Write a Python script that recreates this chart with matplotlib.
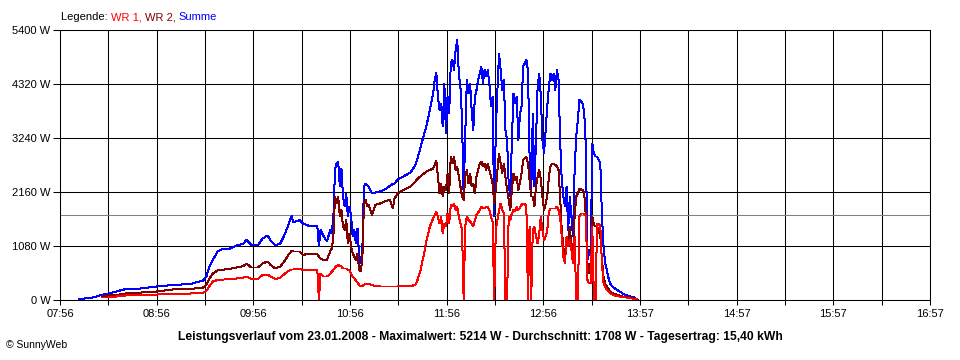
import numpy as np
import matplotlib.pyplot as plt

plt.rcParams["font.family"] = ["Liberation Sans", "DejaVu Sans"]

# Leistungsverlauf 23.01.2008, values in W
times = ["08:08", "08:15", "08:22", "08:26", "08:31", "08:37", "08:46", "08:56", "09:06", "09:17",
         "09:25", "09:27", "09:29", "09:31", "09:34", "09:38", "09:41", "09:46", "09:50", "09:52",
         "09:55", "09:59", "10:02", "10:05", "10:07", "10:10", "10:13", "10:16", "10:18", "10:20",
         "10:21", "10:25", "10:27", "10:31", "10:36", "10:37", "10:38", "10:40", "10:42", "10:44",
         "10:45", "10:46", "10:47", "10:48", "10:49", "10:50", "10:51", "10:52", "10:53", "10:54",
         "10:55", "10:56", "10:57", "10:58", "10:59", "11:00", "11:01", "11:02", "11:03", "11:04",
         "11:05", "11:06", "11:07", "11:08", "11:10", "11:12", "11:15", "11:18", "11:21", "11:23",
         "11:24", "11:26", "11:30", "11:34", "11:37", "11:38", "11:40", "11:42", "11:44", "11:46",
         "11:48", "11:49", "11:50", "11:51", "11:52", "11:53", "11:54", "11:55", "11:56", "11:57",
         "11:58", "11:59", "12:00", "12:01", "12:02", "12:03", "12:04", "12:05", "12:06", "12:07",
         "12:08", "12:09", "12:10", "12:11", "12:12", "12:13", "12:14", "12:15", "12:16", "12:17",
         "12:18", "12:19", "12:20", "12:21", "12:22", "12:23", "12:24", "12:25", "12:26", "12:27",
         "12:28", "12:29", "12:30", "12:31", "12:32", "12:33", "12:34", "12:35", "12:36", "12:37",
         "12:38", "12:39", "12:40", "12:41", "12:42", "12:43", "12:44", "12:45", "12:46", "12:47",
         "12:48", "12:49", "12:50", "12:51", "12:52", "12:53", "12:54", "12:55", "12:56", "12:57",
         "12:58", "12:59", "13:00", "13:01", "13:02", "13:03", "13:04", "13:05", "13:06", "13:07",
         "13:08", "13:09", "13:10", "13:11", "13:12", "13:13", "13:14", "13:15", "13:16", "13:17",
         "13:18", "13:19", "13:20", "13:21", "13:22", "13:23", "13:24", "13:25", "13:26", "13:27",
         "13:28", "13:29", "13:30", "13:31", "13:32", "13:33", "13:34", "13:35", "13:36", "13:37",
         "13:38", "13:39", "13:40", "13:41", "13:42", "13:43", "13:44", "13:45", "13:46", "13:47",
         "13:48", "13:49", "13:50", "13:51", "13:52", "13:53", "13:54", "13:55"]

summe = [20, 40, 100, 130, 170, 220, 230, 270, 300, 320,
         390, 470, 670, 800, 970, 1030, 1020, 1090, 1130, 1200,
         1100, 1090, 1230, 1290, 1190, 1090, 1130, 1330, 1500, 1680,
         1550, 1600, 1530, 1480, 1480, 1070, 1400, 1270, 1170, 1400,
         1330, 1670, 2600, 2730, 2770, 2270, 2630, 2070, 1870, 2130,
         1670, 1870, 1670, 1270, 1400, 1130, 1430, 870, 730, 1000,
         2270, 2330, 2300, 2270, 2130, 2150, 2170, 2210, 2280, 2320,
         2330, 2410, 2480, 2550, 2700, 2800, 3030, 3270, 3500, 3800,
         4130, 4400, 4550, 4070, 3800, 3930, 3470, 4330, 3330, 4070,
         3730, 4730, 4800, 4600, 5000, 5210, 4530, 4270, 3600, 2070,
         3330, 4400, 4130, 4330, 3800, 3400, 4070, 4200, 4400, 4530,
         4670, 4330, 4600, 4470, 4600, 4330, 3870, 4070, 1670, 3400,
         4200, 4930, 4600, 4200, 4400, 3400, 3200, 2330, 2070, 3200,
         4130, 3930, 4070, 3200, 3700, 3870, 4670, 4730, 4800, 4600,
         2870, 2070, 3730, 2270, 3200, 4270, 4530, 4070, 3200, 2930,
         3400, 3870, 4270, 4530, 4400, 4530, 4200, 4600, 4400, 3200,
         2400, 2070, 1870, 2270, 1400, 2070, 1670, 1270, 2600, 3270,
         3600, 4000, 3970, 3930, 3730, 3070, 800, 1000, 870, 3130,
         2930, 2870, 2870, 2800, 2730, 1670, 1070, 730, 600, 450,
         330, 290, 260, 230, 210, 190, 170, 150, 130, 110,
         100, 90, 80, 70, 70, 50, 30, 10]

wr2 = [None, None, 70, 90, 100, 130, 150, 170, 210, 220,
       250, 300, 430, 530, 590, 610, 620, 650, 680, 730,
       650, 650, 730, 770, 700, 630, 670, 800, 900, 980,
       970, 970, 900, 930, 920, 870, 830, 800, 800, 970,
       1030, 1270, 2070, 1930, 2070, 1670, 1800, 1470, 1400, 1600,
       1130, 1330, 1070, 930, 870, 800, 930, 600, 570, 800,
       1930, 2000, 1870, 1900, 1700, 1900, 1930, 1970, 2010, 1830,
       2030, 2130, 2210, 2270, 2370, 2410, 2470, 2520, 2570, 2600,
       2630, 2700, 2780, 2470, 2130, 2330, 2070, 2270, 2200, 2530,
       2130, 2870, 2730, 2870, 2600, 2670, 2470, 2270, 2070, 2000,
       2470, 2600, 2330, 2530, 2270, 2330, 2130, 2470, 2600, 2730,
       2770, 2670, 2730, 2600, 2730, 2600, 2470, 2330, 1930, 2200,
       2600, 2930, 2730, 2530, 2730, 2470, 2200, 2000, 1800, 2200,
       2530, 2400, 2470, 2200, 2350, 2530, 2800, 2830, 2870, 2730,
       2400, 2070, 2070, 1870, 2270, 2470, 2600, 2400, 2070, 1800,
       1930, 2070, 2470, 2670, 2730, 2730, 2700, 2670, 2600, 2070,
       1400, 1070, 730, 1270, 1130, 1470, 1070, 870, 1670, 2070,
       2130, 2230, 2210, 2200, 2130, 1670, 530, 730, 500, 1670,
       1500, 1470, 1470, 1400, 1270, 800, 470, 330, 270, 220,
       180, 150, 130, 120, 110, 100, 90, 80, 70, 70,
       60, 60, 50, 50, 40, 30, 20, 10]

wr1 = [None, None, 50, 50, 70, 90, 100, 110, 120, 130,
       150, 180, 280, 370, 400, 410, 420, 430, 450, 470,
       420, 420, 500, 510, 470, 420, 450, 530, 580, 610,
       610, 630, 600, 610, 600, 0, 530, 470, 470, 520,
       570, 600, 650, 680, 700, 680, 670, 630, 630, 630,
       610, 590, 530, 470, 430, 390, 350, 300, 270, 280,
       300, 330, 320, 320, 300, 280, 270, 270, 270, 270,
       270, 270, 280, 280, 300, 370, 570, 870, 1200, 1470,
       1630, 1700, 1770, 1670, 1530, 1670, 1330, 1530, 1470, 1730,
       1530, 1900, 1870, 1930, 1800, 1870, 1670, 1530, 1400, 0,
       1470, 1670, 1600, 1570, 1530, 1470, 1600, 1700, 1750, 1800,
       1870, 1830, 1830, 1870, 1870, 1800, 1670, 1570, 0, 1400,
       1600, 1800, 1930, 1800, 1730, 0, 0, 1670, 1600, 1730,
       1800, 1770, 1870, 1800, 1850, 1900, 1930, 1930, 1870, 0,
       1470, 0, 1400, 1470, 1270, 1130, 1330, 1670, 1400, 1200,
       1270, 1400, 1770, 1830, 1830, 1830, 1830, 1870, 1800, 1670,
       1270, 870, 730, 1270, 1070, 1200, 1000, 730, 1270, 0,
       0, 1670, 1730, 1730, 1730, 1670, 400, 330, 330, 1470,
       0, 0, 1530, 1530, 1470, 730, 330, 270, 200, 170,
       140, 120, 100, 90, 80, 70, 70, 60, 60, 50,
       50, 40, 40, 30, 30, 20, 20, 10]

x_labels = ["07:56", "08:56", "09:56", "10:56", "11:56", "12:56", "13:57", "14:57", "15:57", "16:57"]
y_ticks = [0, 1080, 2160, 3240, 4320, 5400]
durchschnitt = 1708

def to_min(s):
    h, m = s.split(":")
    return int(h) * 60 + int(m)

t = np.array([to_min(s) for s in times])
summe = np.array(summe, dtype=float)
wr2 = np.array(wr2, dtype=float)
wr1 = np.array(wr1, dtype=float)

x0, x1 = to_min("07:56"), to_min("16:57")

fig = plt.figure(figsize=(9.6, 3.6), dpi=100)
ax = fig.add_axes([60/960, 60/360, 870/960, 270/360])

ax.set_xlim(x0, x1)
ax.set_ylim(0, 5400)
ax.set_xticks(np.linspace(x0, x1, 10))
ax.set_xticklabels(x_labels)
ax.set_xticks(np.linspace(x0, x1, 19), minor=True)
ax.set_yticks(y_ticks)
ax.set_yticklabels(["%d W" % v for v in y_ticks])

ax.grid(axis="x", which="both", color="black", lw=0.75)
ax.grid(axis="y", which="major", color="black", lw=0.75)
ax.set_axisbelow(True)
for s in ax.spines.values():
    s.set_color("black")
    s.set_linewidth(0.75)

ax.tick_params(axis="y", length=5, width=0.75, pad=2, labelsize=8)
ax.tick_params(axis="x", which="both", length=3.6, width=0.75, pad=3, labelsize=8)

ax.axhline(durchschnitt, color="#808080", lw=0.75, zorder=1.5)
for vals, col in [(summe, "#0000ff"), (wr2, "#800000"), (wr1, "#ff0000")]:
    ax.plot(t, vals, color=col, lw=0.72, antialiased=False, zorder=3)

# legend line at the top, coloured words side by side
renderer = fig.canvas.get_renderer()
xpos = 61/960
for s, c in [("Legende: ", "black"), ("WR 1, ", "#ff0000"), ("WR 2, ", "#800000"), ("Summe", "#0000ff")]:
    txt = fig.text(xpos, 1 - 17/360, s, color=c, va="center", ha="left", fontsize=8)
    xpos = txt.get_window_extent(renderer).x1 / fig.bbox.width

fig.text(480/960, 1 - 337/360,
         "Leistungsverlauf vom 23.01.2008 - Maximalwert: 5214 W - Durchschnitt: 1708 W - Tagesertrag: 15,40 kWh",
         ha="center", va="center", fontsize=8.7, fontweight="bold")
fig.text(6/960, 1 - 345/360, "\u00a9 SunnyWeb", ha="left", va="center", fontsize=7.5)

fig.savefig("out.png", dpi=100)
